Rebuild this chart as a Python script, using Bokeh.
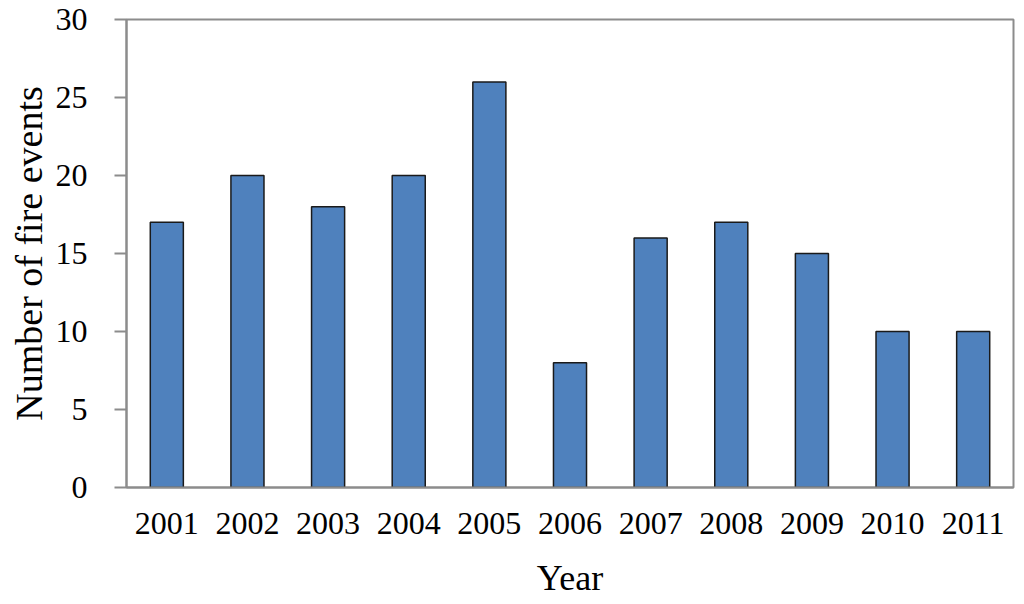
from bokeh.plotting import figure
from bokeh.embed import file_html
from bokeh.resources import INLINE
from bokeh.models import ColumnDataSource, FixedTicker

years = ["2001", "2002", "2003", "2004", "2005", "2006", "2007", "2008", "2009", "2010", "2011"]
fire_events = [17, 20, 18, 20, 26, 8, 16, 17, 15, 10, 10]
y_ticks = [0, 5, 10, 15, 20, 25, 30]

src = ColumnDataSource(dict(year=years, n=fire_events))

p = figure(x_range=years, y_range=(0, 30), width=1016, height=600,
           output_backend="svg", toolbar_location=None,
           min_border_left=126, min_border_top=19, min_border_right=3, min_border_bottom=111)

p.vbar(x="year", top="n", width=0.41, source=src, fill_color="#4F81BD",
       line_color="#1a1a1a", line_width=1.5)

p.xgrid.grid_line_color = None
p.ygrid.grid_line_color = None
p.outline_line_color = "#8c8c8c"
p.outline_line_width = 2

font = "Liberation Serif"
for ax in (p.xaxis, p.yaxis):
    ax.axis_line_color = "#8c8c8c"
    ax.axis_line_width = 2
    ax.major_label_text_font = font
    ax.major_label_text_font_size = "32px"
    ax.major_label_text_color = "black"
    ax.axis_label_text_font = font
    ax.axis_label_text_font_size = "36px"
    ax.axis_label_text_font_style = "normal"
    ax.axis_label_text_color = "black"
    ax.minor_tick_line_color = None

p.yaxis.ticker = FixedTicker(ticks=y_ticks)
p.yaxis.major_tick_out = 12
p.yaxis.major_tick_in = 0
p.yaxis.major_tick_line_color = "#8c8c8c"
p.yaxis.major_tick_line_width = 2
p.yaxis.major_label_standoff = 27
p.yaxis.axis_label = "Number of fire events"
p.yaxis.axis_label_text_font_size = "38px"
p.yaxis.axis_label_standoff = 3

p.xaxis.major_tick_line_color = None
p.xaxis.major_tick_out = 0
p.xaxis.major_label_standoff = 25
p.xaxis.axis_label = "Year"
p.xaxis.axis_label_standoff = 21

open("out.html", "w").write(file_html(p, INLINE))
